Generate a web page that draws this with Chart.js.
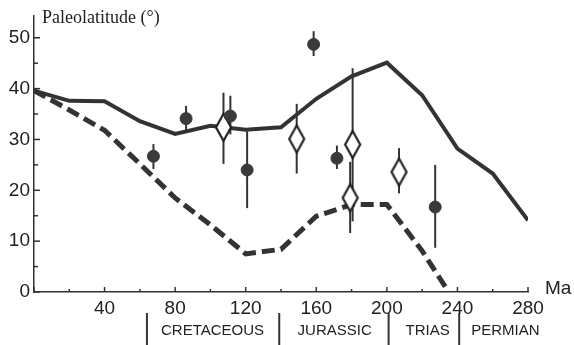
<!DOCTYPE html>
<html>
<head>
<meta charset="utf-8">
<script src="https://cdn.jsdelivr.net/npm/chart.js@4"></script>
<style>
  html, body { margin: 0; padding: 0; background: #fff; }
  canvas { display: block; }
</style>
</head>
<body>
<canvas id="paleo" width="574" height="345"></canvas>
<script>
// Ma = age, Lat = paleolatitude in degrees
const solidMa  = [0, 20, 40, 60, 80, 100, 120, 140, 160, 180, 200, 220, 240, 260, 280];
const solidLat = [39.6, 37.6, 37.5, 33.6, 31.1, 32.7, 31.9, 32.4, 38.0, 42.4, 45.1, 38.7, 28.2, 23.3, 14.1];

const dashedMa  = [0, 20, 40, 60, 80, 100, 120, 140, 160, 180, 200, 220, 235];
const dashedLat = [39.6, 35.8, 31.8, 25.2, 18.5, 13.2, 7.5, 8.4, 14.9, 17.2, 17.2, 8.1, 0];

const circleMa  = [67.7, 86.2, 111.3, 120.8, 158.5, 171.7, 227.4];
const circleLat = [26.7, 34.1, 34.6, 24.0, 48.7, 26.3, 16.7];
const circleLo  = [24.2, 31.7, 31.0, 16.5, 46.4, 24.2, 8.7];
const circleHi  = [29.1, 36.6, 38.6, 32.0, 51.3, 28.8, 25.0];

const diamondMa  = [107.4, 148.9, 180.6, 179.2, 206.9];
const diamondLat = [32.4, 30.1, 29.0, 18.5, 23.6];
const diamondLo  = [25.2, 23.3, 13.9, 11.6, 19.4];
const diamondHi  = [39.2, 37.0, 44.0, 25.6, 28.3];

const xTickMarks = [0, 20, 40, 60, 80, 100, 120, 140, 160, 180, 200, 220, 240, 260, 280];
const xTickLabels = [40, 80, 120, 160, 200, 240, 280];
const yTickMarks = [0, 5, 10, 15, 20, 25, 30, 35, 40, 45, 50];
const yTickLabels = [0, 10, 20, 30, 40, 50];

const periodNames   = ['CRETACEOUS', 'JURASSIC', 'TRIAS', 'PERMIAN'];
const periodLabelAt = [101.2, 170.4, 223.1, 267.2];
const periodBounds  = [64, 139, 201, 241];

const ink = '#333';
const sans = '"Liberation Sans", Arial, sans-serif';

function makeDiamond(w, h) {
  const c = document.createElement('canvas');
  c.width = w + 4;
  c.height = h + 4;
  const g = c.getContext('2d');
  g.beginPath();
  g.moveTo(c.width / 2, 2);
  g.lineTo(c.width - 2, c.height / 2);
  g.lineTo(c.width / 2, c.height - 2);
  g.lineTo(2, c.height / 2);
  g.closePath();
  g.fillStyle = '#fff';
  g.fill();
  g.lineWidth = 2.2;
  g.strokeStyle = '#222';
  g.stroke();
  return c;
}

const toXY = (xs, ys) => xs.map((v, i) => ({ x: v, y: ys[i] }));

const decor = {
  id: 'decor',
  afterDatasetDraw(chart, args) {
    // error bars sit above the curves but below the symbols
    if (args.index !== 1) return;
    const { ctx, scales: { x, y } } = chart;
    const bar = (ma, lo, hi) => {
      const px = x.getPixelForValue(ma);
      ctx.beginPath();
      ctx.moveTo(px, y.getPixelForValue(lo));
      ctx.lineTo(px, y.getPixelForValue(hi));
      ctx.stroke();
    };
    ctx.save();
    ctx.strokeStyle = ink;
    ctx.lineWidth = 2;
    circleMa.forEach((m, i) => bar(m, circleLo[i], circleHi[i]));
    diamondMa.forEach((m, i) => bar(m, diamondLo[i], diamondHi[i]));
    ctx.restore();
  },
  afterDraw(chart) {
    const { ctx, chartArea: area, scales: { x, y } } = chart;
    ctx.save();
    ctx.strokeStyle = ink;
    ctx.lineWidth = 1.5;

    // inward tick marks
    xTickMarks.forEach(v => {
      const px = x.getPixelForValue(v);
      const len = v % 40 === 0 ? 5 : 3;
      ctx.beginPath();
      ctx.moveTo(px, area.bottom);
      ctx.lineTo(px, area.bottom - len);
      ctx.stroke();
    });
    yTickMarks.forEach(v => {
      const py = y.getPixelForValue(v);
      const len = v % 10 === 0 ? 6 : 4;
      ctx.beginPath();
      ctx.moveTo(area.left, py);
      ctx.lineTo(area.left + len, py);
      ctx.stroke();
    });

    ctx.fillStyle = '#222';

    // axis captions
    ctx.font = '18px "Liberation Serif", "Times New Roman", serif';
    ctx.textAlign = 'left';
    ctx.textBaseline = 'alphabetic';
    ctx.fillText('Paleolatitude (°)', area.left + 8, 23);

    ctx.font = '19px ' + sans;
    ctx.textBaseline = 'middle';
    ctx.fillText('Ma', area.right + 17, area.bottom - 3);

    // geological periods
    ctx.lineWidth = 2;
    periodBounds.forEach(m => {
      const px = x.getPixelForValue(m);
      ctx.beginPath();
      ctx.moveTo(px, 313);
      ctx.lineTo(px, 345);
      ctx.stroke();
    });
    ctx.font = '15px ' + sans;
    ctx.textAlign = 'center';
    periodNames.forEach((name, i) => {
      ctx.fillText(name, x.getPixelForValue(periodLabelAt[i]), 331);
    });
    ctx.restore();
  }
};

new Chart(document.getElementById('paleo').getContext('2d'), {
  type: 'scatter',
  data: {
    datasets: [
      {
        type: 'line',
        label: 'Solid',
        data: toXY(solidMa, solidLat),
        borderColor: ink,
        borderWidth: 4,
        pointRadius: 0,
        fill: false,
        tension: 0,
        order: 4,
      },
      {
        type: 'line',
        label: 'Dashed',
        data: toXY(dashedMa, dashedLat),
        borderColor: ink,
        borderWidth: 5,
        borderDash: [13, 6],
        borderCapStyle: 'butt',
        pointRadius: 0,
        fill: false,
        tension: 0,
        order: 3,
      },
      {
        label: 'Open',
        data: toXY(diamondMa, diamondLat),
        pointStyle: makeDiamond(15, 27),
        pointRadius: 8,
        order: 2,
      },
      {
        label: 'Filled',
        data: toXY(circleMa, circleLat),
        pointStyle: 'circle',
        pointRadius: 6,
        backgroundColor: '#3a3a3a',
        borderColor: '#3a3a3a',
        borderWidth: 1,
        order: 1,
      },
    ],
  },
  options: {
    responsive: false,
    animation: false,
    layout: { padding: { top: 12, right: 46, left: 0, bottom: 0 } },
    scales: {
      x: {
        type: 'linear',
        min: 0,
        max: 280,
        afterFit: s => { s.height = 53; },
        afterBuildTicks: s => { s.ticks = xTickMarks.map(v => ({ value: v })); },
        grid: { display: false, drawTicks: false },
        border: { display: true, color: ink, width: 1.5 },
        ticks: {
          autoSkip: false,
          maxRotation: 0,
          padding: 5,
          color: '#222',
          font: { family: sans, size: 19 },
          callback: v => xTickLabels.includes(v) ? String(v) : '',
        },
      },
      y: {
        min: 0,
        max: 54.4,
        afterFit: s => { s.width = 34; },
        afterBuildTicks: s => { s.ticks = yTickMarks.map(v => ({ value: v })); },
        grid: { display: false, drawTicks: false },
        border: { display: true, color: ink, width: 1.5 },
        ticks: {
          autoSkip: false,
          padding: 4,
          color: '#222',
          font: { family: sans, size: 19 },
          callback: v => yTickLabels.includes(v) ? String(v) : '',
        },
      },
    },
    plugins: {
      legend: { display: false },
      tooltip: { enabled: false },
    },
  },
  plugins: [decor],
});
</script>
</body>
</html>
